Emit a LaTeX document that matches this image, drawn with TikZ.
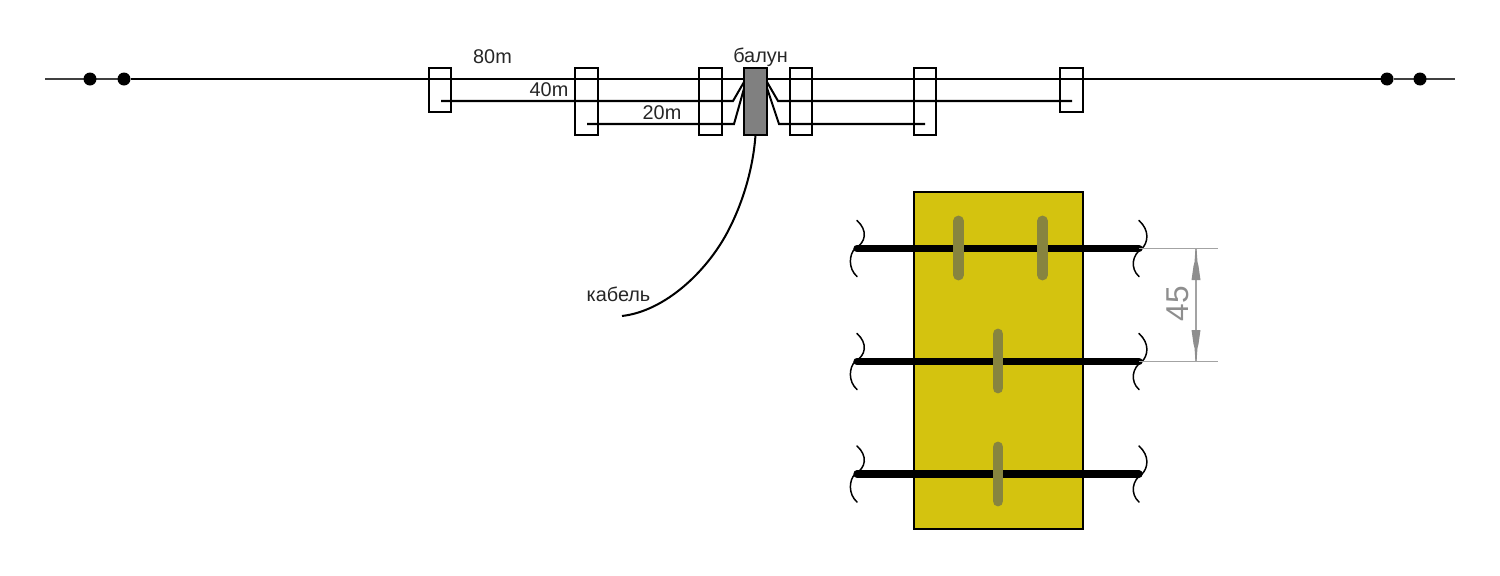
\documentclass[tikz,border=0pt]{standalone}
\usepackage{fontspec}
\setmainfont{Liberation Sans}
\usetikzlibrary{calc,backgrounds}
\definecolor{boardy}{HTML}{D4C30F}
\definecolor{barol}{HTML}{87843F}
\definecolor{baln}{HTML}{808080}
\definecolor{dimg}{HTML}{A3A3A3}
\definecolor{dimt}{HTML}{8E8E8E}
\tikzset{
  wire/.style={line width=1.15pt,black},
  thinwire/.style={line width=0.65pt,black!75},
  frm/.style={draw=black,line width=1.15pt,fill=none,minimum width=22.5*0.02cm,inner sep=0pt,outer sep=0pt},
  dot/.style={circle,fill=black,inner sep=0pt,outer sep=0pt,minimum size=13*0.02cm},
  lbl/.style={font=\fontsize{11.3pt}{13pt}\selectfont,inner sep=0pt,outer sep=0pt,text=black!85},
  fat/.style={line width=4.2pt,black,line cap=round},
  bar/.style={line width=6.2pt,barol,line cap=round},
  squig/.style={line width=0.85pt,black,line cap=round},
  dimline/.style={line width=0.6pt,dimg},
  head/.style={fill=dimt,draw=none},
}
\begin{document}
\begin{tikzpicture}[x=0.02cm,y=-0.02cm]
\useasboundingbox (0,0) rectangle (1500,575);
% named wire ends
\coordinate (wl) at (45,79);
\coordinate (wr) at (1455,79);
\node[dot] (d1) at (90,79) {};
\node[dot] (d2) at (124,79) {};
\node[dot] (d3) at (1387,79) {};
\node[dot] (d4) at (1420,79) {};
\coordinate (a80) at (441,101);
\coordinate (a40) at (587,124);
\coordinate (b80) at (1072,101);
\coordinate (b40) at (925,124);
\coordinate (k1) at (733,101);
\coordinate (k2) at (734,124);
\coordinate (k3) at (778,101);
\coordinate (k4) at (779,124);
\coordinate (t1) at (744,82);
\coordinate (t2) at (745,85);
\coordinate (t3) at (767,82);
\coordinate (t4) at (766,85);
% wires
\begin{scope}[on background layer]
\draw[thinwire] (wl) -- (d2);
\draw[wire] (d2) -- (d3);
\draw[thinwire] (d3) -- (wr);
\end{scope}
\draw[wire] (a80) -- (k1) -- (t1);
\draw[wire] (a40) -- (k2) -- (t2);
\draw[wire] (b80) -- (k3) -- (t3);
\draw[wire] (b40) -- (k4) -- (t4);
% boxes
\node[frm,minimum height=44*0.02cm] (s1) at (440,90) {};
\node[frm,minimum height=67*0.02cm] (s2) at (586.5,101.5) {};
\node[frm,minimum height=67*0.02cm] (s3) at (710.5,101.5) {};
\node[frm,minimum height=67*0.02cm,fill=baln] (bal) at (755.5,101.5) {};
\node[frm,minimum height=67*0.02cm] (s4) at (801,101.5) {};
\node[frm,minimum height=67*0.02cm] (s5) at (925,101.5) {};
\node[frm,minimum height=44*0.02cm] (s6) at (1071.5,90) {};
% cable
\coordinate (cabm) at (727,233);
\coordinate (cab) at (622,316);
\draw[wire] (bal.south) .. controls (753,170) and (742,205) .. (cabm) .. controls (706,272) and (665,311) .. (cab);
% labels
\node[lbl] (l80) at (492.5,57) {80m};
\node[lbl] (l40) at (549,90) {40m};
\node[lbl] (l20) at (662,113) {20m};
\node[lbl] (lb) at (760.5,57) {балун};
\node[lbl] (lk) at (618.5,294) {кабель};
% board
\node[draw=black,line width=1.15pt,fill=boardy,minimum width=169*0.02cm,minimum height=337*0.02cm,inner sep=0pt,outer sep=0pt] (board) at (998.5,360.5) {};
% three rows
\foreach \n/\y in {a/248.5,b/361.5,c/474}{
  \coordinate (\n L) at (857,\y);
  \coordinate (\n R) at (1139,\y);
  \draw[fat] (\n L) -- (\n R);
  \draw[squig] ($(\n L)+(0,-28)$) .. controls ($(\n L)+(11,-18)$) and ($(\n L)+(9,-6)$) .. ($(\n L)+(-2,0)$) .. controls ($(\n L)+(-8,6)$) and ($(\n L)+(-9,20)$) .. ($(\n L)+(0,28)$);
  \draw[squig] ($(\n R)+(0,-28)$) .. controls ($(\n R)+(11,-18)$) and ($(\n R)+(9,-6)$) .. ($(\n R)+(3,0)$) .. controls ($(\n R)+(-7,6)$) and ($(\n R)+(-9,20)$) .. ($(\n R)+(0,28)$);
}
% olive bars
\draw[bar] (958.5,221) -- (958.5,275);
\draw[bar] (1042.5,221) -- (1042.5,275);
\draw[bar] (998,334) -- (998,388);
\draw[bar] (998,447) -- (998,501);
% dimension
\coordinate (e1) at (1218,248.5);
\coordinate (e2) at (1218,361.5);
\draw[dimline] (aR) -- (e1);
\draw[dimline] (bR) -- (e2);
\coordinate (up) at (1196,248.5);
\coordinate (dn) at (1196,361.5);
\draw[dimline] (up) -- (dn);
\fill[head] (1195.3,251) -- (1196.7,251) -- (1197.5,262) -- (1198.5,266) -- (1200.5,280) -- (1191.5,280) -- (1193.5,266) -- (1194.5,262) -- cycle;
\fill[head] (1195.3,359) -- (1196.7,359) -- (1197.5,348) -- (1198.5,344) -- (1200.5,330) -- (1191.5,330) -- (1193.5,344) -- (1194.5,348) -- cycle;
\node[font=\fontsize{18pt}{20pt}\selectfont,text=dimt,rotate=90,inner sep=0pt] (dim) at (1178,303.5) {45};
\end{tikzpicture}
\end{document}
